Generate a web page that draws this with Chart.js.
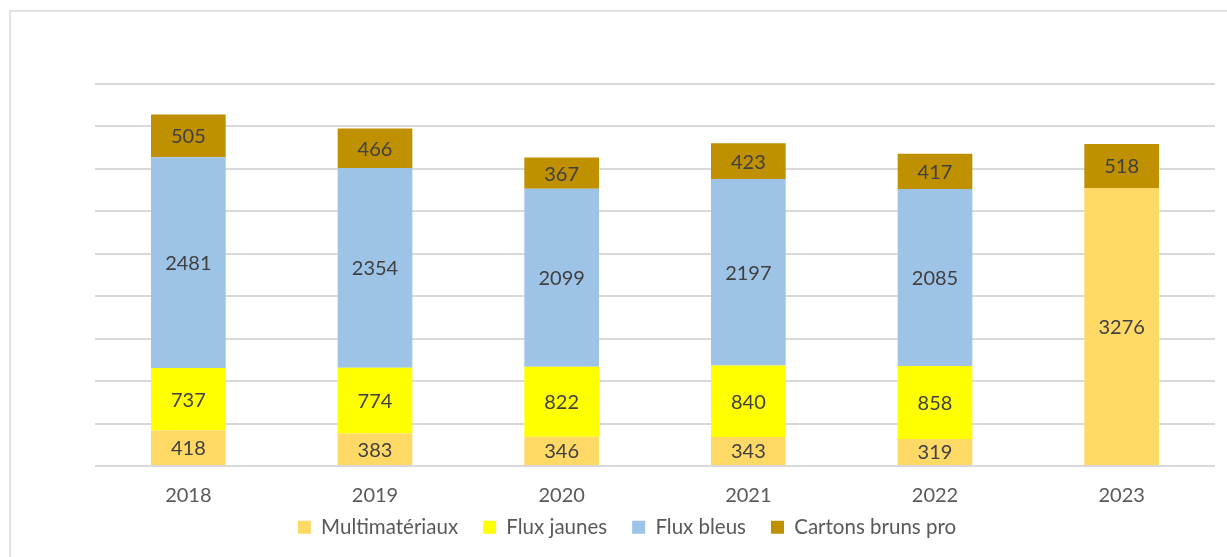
<!DOCTYPE html>
<html>
<head>
<meta charset="utf-8">
<script src="https://cdn.jsdelivr.net/npm/chart.js@4/dist/chart.umd.min.js"></script>
<style>
  html, body { margin: 0; padding: 0; background: #fff; }
  #wrap { width: 1227px; height: 557px; }
</style>
</head>
<body>
<div id="wrap"><canvas id="myChart" width="1227" height="557"></canvas></div>
<script>
// données
var annees = ["2018", "2019", "2020", "2021", "2022", "2023"];
var multimateriaux = [418, 383, 346, 343, 319, 3276];
var fluxJaunes = [737, 774, 822, 840, 858, null];
var fluxBleus = [2481, 2354, 2099, 2197, 2085, null];
var cartonsBruns = [505, 466, 367, 423, 417, 518];

var police = "Lato, 'Open Sans', sans-serif";

// étiquettes au centre des barres
var etiquettes = {
  id: "etiquettes",
  afterDatasetsDraw: function (chart) {
    var ctx = chart.ctx;
    ctx.save();
    ctx.font = "20px " + police;
    ctx.fillStyle = "#404040";
    ctx.textAlign = "center";
    ctx.textBaseline = "middle";
    chart.data.datasets.forEach(function (ds, i) {
      var meta = chart.getDatasetMeta(i);
      meta.data.forEach(function (bar, j) {
        var v = ds.data[j];
        if (v === null || v === undefined) return;
        ctx.fillText(String(v), bar.x, (bar.y + bar.base) / 2 + 1);
      });
    });
    ctx.restore();
  }
};

// cadre gris + placement de la légende
var cadre = {
  id: "cadre",
  beforeLayout: function (chart) {
    var lg = chart.legend;
    if (lg && !lg._patched) {
      var fit = lg.fit;
      lg.fit = function () { fit.call(this); this.height = 51; };
      lg._patched = true;
    }
  },
  afterLayout: function (chart) {
    var lg = chart.legend;
    var h = lg.height;
    lg.top = 492;
    lg.bottom = 492 + h;
    lg.left -= 28;
    lg.right -= 28;
  },
  beforeDraw: function (chart) {
    var ctx = chart.ctx;
    ctx.save();
    ctx.strokeStyle = "#e2e2e2";
    ctx.lineWidth = 2;
    ctx.beginPath();
    ctx.moveTo(10, chart.height);
    ctx.lineTo(10, 11);
    ctx.lineTo(chart.width, 11);
    ctx.stroke();
    ctx.restore();
  }
};

var ctx = document.getElementById("myChart");
var chart = new Chart(ctx, {
  type: "bar",
  data: {
    labels: annees,
    datasets: [
      { label: "Multimatériaux", data: multimateriaux, backgroundColor: "#FFD966" },
      { label: "Flux jaunes", data: fluxJaunes, backgroundColor: "#FFFF00" },
      { label: "Flux bleus", data: fluxBleus, backgroundColor: "#9DC3E6" },
      { label: "Cartons bruns pro", data: cartonsBruns, backgroundColor: "#BF9000" }
    ]
  },
  options: {
    responsive: false,
    animation: false,
    layout: { padding: { left: 95, right: 12, top: 84, bottom: 0 } },
    datasets: { bar: { barPercentage: 0.4, categoryPercentage: 1 } },
    plugins: {
      legend: {
        position: "bottom",
        labels: {
          boxWidth: 13,
          boxHeight: 13,
          padding: 25,
          color: "#595959",
          font: { family: police, size: 20.5 }
        }
      },
      tooltip: { enabled: false }
    },
    scales: {
      x: {
        stacked: true,
        grid: { display: false },
        border: { display: false },
        ticks: { color: "#595959", font: { family: police, size: 20 }, padding: 10 },
        afterFit: function (s) { s.height = 40; }
      },
      y: {
        stacked: true,
        min: 0,
        max: 4500,
        ticks: { stepSize: 500, display: false },
        grid: { color: "#d9d9d9", lineWidth: 2, drawTicks: false },
        border: { display: false },
        afterFit: function (s) { s.width = 0; }
      }
    }
  },
  plugins: [etiquettes, cadre]
});
</script>
</body>
</html>
